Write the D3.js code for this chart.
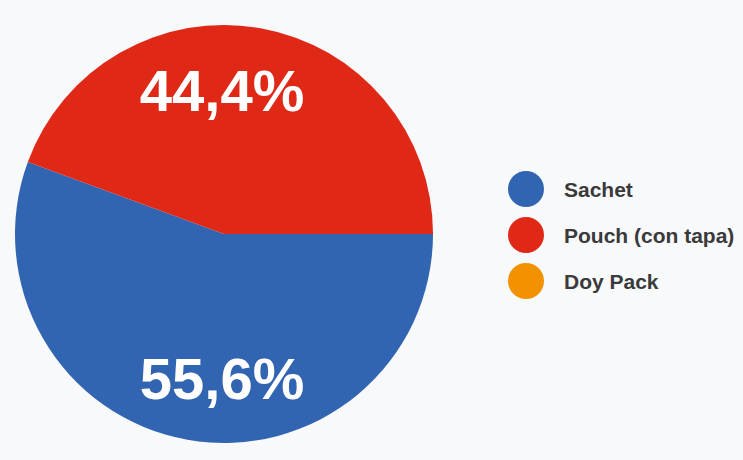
<!DOCTYPE html>
<html>
<head>
<meta charset="utf-8">
<script src="https://cdn.jsdelivr.net/npm/d3@7"></script>
<style>
  html, body { margin: 0; padding: 0; background: #f8f9fb; }
  svg { display: block; }
</style>
</head>
<body>
<svg id="chart" width="743" height="460"></svg>
<script>
// Packaging type shares (percent)
const categories = ["Sachet", "Pouch (con tapa)", "Doy Pack"];
const shares = [55.6, 44.4, 0];
const colors = ["#3164b1", "#e02817", "#f39200"];

const width = 743, height = 460;
const cx = 224, cy = 234, radius = 209;

const svg = d3.select("#chart");
svg.append("rect").attr("width", width).attr("height", height).attr("fill", "#f8f9fb");

const data = categories.map((c, i) => ({ name: c, value: shares[i], color: colors[i] }));

// First slice begins at 3 o'clock and runs clockwise
const pie = d3.pie()
  .value(d => d.value)
  .sort(null)
  .startAngle(Math.PI / 2)
  .endAngle(Math.PI / 2 + 2 * Math.PI);

const arc = d3.arc().innerRadius(0).outerRadius(radius);
const labelArc = d3.arc().innerRadius(radius * 0.70).outerRadius(radius * 0.70);

const g = svg.append("g").attr("transform", `translate(${cx},${cy})`);
const arcs = pie(data);

g.selectAll("path.slice")
  .data(arcs.filter(d => d.data.value > 0))
  .join("path")
  .attr("class", "slice")
  .attr("d", arc)
  .attr("fill", d => d.data.color);

const fmt = v => v.toFixed(1).replace(".", ",") + "%";

// Percent labels, kept on the vertical axis of the pie at the slice's centroid height
g.selectAll("text.pct")
  .data(arcs.filter(d => d.data.value > 0))
  .join("text")
  .attr("class", "pct")
  .attr("x", -2)
  .attr("y", d => labelArc.centroid(d)[1])
  .attr("dy", "0.36em")
  .attr("text-anchor", "middle")
  .attr("fill", "#ffffff")
  .attr("font-family", "'Liberation Sans', Arial, sans-serif")
  .attr("font-weight", "bold")
  .attr("font-size", 58)
  .text(d => fmt(d.data.value));

// Legend
const legend = svg.append("g").attr("transform", "translate(526,189)");
const item = legend.selectAll("g.item")
  .data(data)
  .join("g")
  .attr("class", "item")
  .attr("transform", (d, i) => `translate(0,${i * 46})`);

item.append("circle")
  .attr("r", 18)
  .attr("fill", d => d.color);

item.append("text")
  .attr("x", 38)
  .attr("dy", "0.36em")
  .attr("fill", "#3a3a3a")
  .attr("font-family", "'Liberation Sans', Arial, sans-serif")
  .attr("font-weight", "bold")
  .attr("font-size", 21)
  .text(d => d.name);
</script>
</body>
</html>
